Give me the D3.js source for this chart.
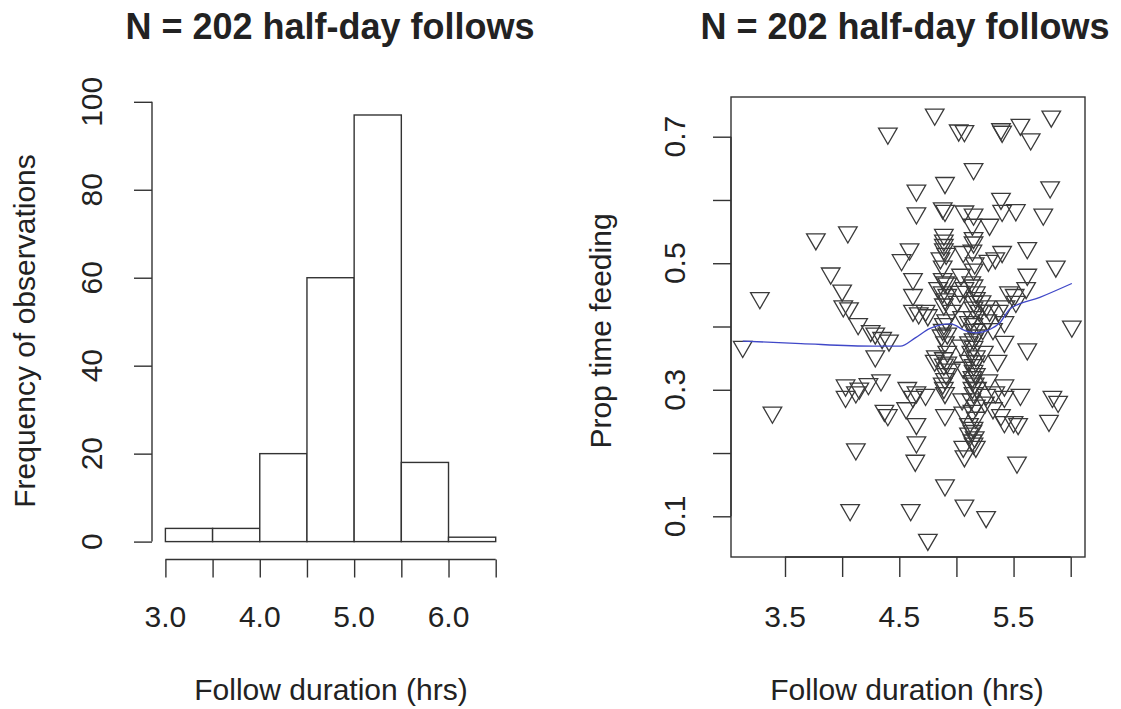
<!DOCTYPE html>
<html>
<head>
<meta charset="utf-8">
<script src="https://cdn.jsdelivr.net/npm/d3@7"></script>
<style>
  body { margin: 0; background: #fff; }
  text { font-family: "Liberation Sans", Arial, Helvetica, sans-serif; fill: #222; }
</style>
</head>
<body>
<div id="chart"></div>
<script>
// histogram: follow duration bins (hrs) and counts
const histBreaks = [3.0, 3.5, 4.0, 4.5, 5.0, 5.5, 6.0, 6.5];
const histCounts = [3, 3, 20, 60, 97, 18, 1];
const histXTicks = [3.0, 3.5, 4.0, 4.5, 5.0, 5.5, 6.0, 6.5];
const histXLabels = [3.0, 4.0, 5.0, 6.0];
const histYTicks = [0, 20, 40, 60, 80, 100];

// scatter: follow duration vs proportion of time feeding
const followDur = [
  4.81, 5.83, 5.02, 5.07, 5.39, 5.40, 5.56, 5.65, 4.40, 5.15,
  4.65, 4.90, 5.82, 4.65, 4.88, 4.90, 5.07, 5.15, 5.39, 5.40,
  5.52, 5.76, 5.29, 5.14, 3.77, 4.05, 5.62, 4.59, 4.89, 4.89,
  4.89, 5.15, 5.15, 5.28, 5.34, 5.40, 4.52, 4.86, 5.06, 5.87,
  3.90, 5.62, 5.61, 4.62, 4.88, 4.92, 4.84, 4.88, 5.04, 5.07,
  5.15, 5.17, 5.46, 5.51, 3.28, 4.00, 4.62, 4.01, 4.06, 4.62,
  4.67, 4.73, 4.75, 4.90, 4.96, 5.01, 5.15, 5.20, 5.26, 5.29,
  5.37, 5.43, 5.52, 4.14, 4.25, 4.29, 4.35, 4.41, 4.89, 4.92,
  4.87, 5.11, 5.15, 5.17, 5.23, 5.32, 5.42, 6.01, 3.13, 4.29,
  5.11, 5.15, 5.17, 5.42, 5.62, 4.82, 4.89, 4.92, 4.95, 5.11,
  5.15, 5.17, 5.14, 5.36, 4.81, 4.03, 4.15, 4.12, 4.23, 4.34,
  4.57, 4.65, 4.73, 4.90, 4.89, 5.14, 5.18, 5.26, 5.34, 5.42,
  5.42, 5.56, 4.03, 4.56, 4.62, 5.84, 5.89, 3.39, 4.37, 4.40,
  4.90, 5.06, 5.14, 5.17, 5.11, 5.32, 5.39, 5.42, 5.50, 5.54,
  4.65, 5.81, 5.11, 5.14, 5.06, 4.12, 4.65, 4.64, 5.07, 5.17,
  5.53, 4.90, 4.07, 4.60, 5.07, 5.26, 4.75,
  5.14, 5.16, 5.15, 5.13, 5.17, 5.15, 5.14, 5.16, 5.15, 5.13,
  5.17, 5.15, 5.14, 5.16, 5.15, 5.13, 5.17, 5.15, 5.14, 5.16, 5.15,
  4.89, 4.91, 4.88, 4.90, 4.92, 4.89, 4.91, 4.88, 4.90, 4.92,
  4.89, 4.91, 4.88, 4.90,
  5.03, 5.05, 5.04, 5.06, 5.05,
  5.22, 5.27, 5.24, 5.28, 5.25
];
const propFeeding = [
  0.735, 0.732, 0.710, 0.709, 0.712, 0.708, 0.719, 0.696, 0.705, 0.649,
  0.615, 0.627, 0.620, 0.579, 0.587, 0.583, 0.582, 0.577, 0.602, 0.583,
  0.584, 0.577, 0.561, 0.561, 0.538, 0.549, 0.524, 0.522, 0.536, 0.529,
  0.522, 0.540, 0.533, 0.504, 0.508, 0.518, 0.505, 0.508, 0.518, 0.495,
  0.484, 0.482, 0.461, 0.475, 0.475, 0.468, 0.461, 0.454, 0.482, 0.461,
  0.465, 0.454, 0.454, 0.450, 0.445, 0.457, 0.450, 0.432, 0.429, 0.425,
  0.421, 0.425, 0.418, 0.443, 0.425, 0.439, 0.439, 0.425, 0.432, 0.425,
  0.425, 0.432, 0.439, 0.404, 0.393, 0.389, 0.382, 0.378, 0.404, 0.389,
  0.386, 0.407, 0.404, 0.386, 0.396, 0.396, 0.407, 0.400, 0.368, 0.353,
  0.375, 0.368, 0.353, 0.376, 0.364, 0.353, 0.350, 0.343, 0.332, 0.346,
  0.339, 0.325, 0.314, 0.346, 0.346, 0.307, 0.302, 0.296, 0.309, 0.315,
  0.303, 0.296, 0.292, 0.317, 0.303, 0.303, 0.303, 0.292, 0.296, 0.307,
  0.289, 0.292, 0.289, 0.271, 0.289, 0.289, 0.281, 0.264, 0.267, 0.260,
  0.260, 0.264, 0.267, 0.256, 0.246, 0.271, 0.260, 0.249, 0.249, 0.246,
  0.246, 0.251, 0.231, 0.220, 0.210, 0.206, 0.217, 0.188, 0.195, 0.210,
  0.185, 0.149, 0.110, 0.110, 0.117, 0.099, 0.063,
  0.520, 0.500, 0.490, 0.470, 0.445, 0.430, 0.415, 0.395, 0.380, 0.360,
  0.345, 0.330, 0.320, 0.310, 0.295, 0.285, 0.275, 0.240, 0.235, 0.225, 0.215,
  0.545, 0.515, 0.495, 0.470, 0.450, 0.435, 0.410, 0.395, 0.375, 0.360,
  0.340, 0.325, 0.310, 0.295,
  0.455, 0.415, 0.370, 0.335, 0.285,
  0.440, 0.410, 0.360, 0.315, 0.280
];

// smoother line (blue)
const smoothX = [3.13, 3.64, 4.27, 4.51, 4.64, 4.77, 4.95, 5.08, 5.17, 5.30, 5.38, 5.47, 5.73, 6.01];
const smoothY = [0.377, 0.373, 0.369, 0.369, 0.382, 0.397, 0.404, 0.393, 0.390, 0.396, 0.406, 0.428, 0.446, 0.468];

const scatXTicks = [3.5, 4.0, 4.5, 5.0, 5.5, 6.0];
const scatXLabels = [3.5, 4.5, 5.5];
const scatYTicks = [0.1, 0.2, 0.3, 0.4, 0.5, 0.6, 0.7];
const scatYLabels = [0.1, 0.3, 0.5, 0.7];

const width = 1121, height = 709;
const ink = "#333";
const fmt1 = d3.format(".1f");

const svg = d3.select("#chart").append("svg")
  .attr("width", width)
  .attr("height", height)
  .style("background", "#fff");

// ---------- left panel: histogram ----------
const hx = d3.scaleLinear().domain([3.0, 6.5]).range([165.4, 495.7]);
const hy = d3.scaleLinear().domain([0, 100]).range([541.6, 101.8]);

const left = svg.append("g");

left.selectAll("rect.bar")
  .data(histCounts)
  .enter()
  .append("rect")
  .attr("class", "bar")
  .attr("x", (d, i) => hx(histBreaks[i]))
  .attr("y", d => hy(d))
  .attr("width", (d, i) => hx(histBreaks[i + 1]) - hx(histBreaks[i]))
  .attr("height", d => hy(0) - hy(d))
  .attr("fill", "#fff")
  .attr("stroke", ink)
  .attr("stroke-width", 1.4);

// x axis
const hxAxisY = 559.5;
const hxAxis = d3.axisBottom(hx).tickValues(histXTicks).tickSize(18).tickFormat("");
left.append("g")
  .attr("transform", `translate(0,${hxAxisY})`)
  .call(hxAxis)
  .call(g => g.select(".domain").attr("stroke", ink).attr("stroke-width", 1.4)
    .attr("d", `M${hx(3.0)},0H${hx(6.5)}`))
  .call(g => g.selectAll(".tick line").attr("stroke", ink).attr("stroke-width", 1.4));

left.selectAll("text.hxlab")
  .data(histXLabels)
  .enter()
  .append("text")
  .attr("class", "hxlab")
  .attr("x", d => hx(d))
  .attr("y", 627)
  .attr("text-anchor", "middle")
  .style("font-size", "30px")
  .text(d => fmt1(d));

// y axis
const hyAxis = d3.axisLeft(hy).tickValues(histYTicks).tickSize(18).tickFormat("");
left.append("g")
  .attr("transform", "translate(152,0)")
  .call(hyAxis)
  .call(g => g.select(".domain").attr("stroke", ink).attr("stroke-width", 1.4)
    .attr("d", `M0,${hy(0)}V${hy(100)}`))
  .call(g => g.selectAll(".tick line").attr("stroke", ink).attr("stroke-width", 1.4));

left.selectAll("text.hylab")
  .data(histYTicks)
  .enter()
  .append("text")
  .attr("class", "hylab")
  .attr("transform", d => `translate(102,${hy(d)}) rotate(-90)`)
  .attr("text-anchor", "middle")
  .style("font-size", "30px")
  .text(d => d);

left.append("text")
  .attr("transform", "translate(35,331) rotate(-90)")
  .attr("text-anchor", "middle")
  .style("font-size", "30px")
  .text("Frequency of observations");

left.append("text")
  .attr("x", 331)
  .attr("y", 700)
  .attr("text-anchor", "middle")
  .style("font-size", "30px")
  .text("Follow duration (hrs)");

left.append("text")
  .attr("x", 330)
  .attr("y", 38.5)
  .attr("text-anchor", "middle")
  .style("font-size", "36px")
  .style("font-weight", "bold")
  .text("N = 202 half-day follows");

// ---------- right panel: scatter ----------
const box = { x0: 731, x1: 1085, y0: 97, y1: 557 };
const sx = d3.scaleLinear().domain([3.5, 6.0]).range([785, 1070.7]);
const sy = d3.scaleLinear().domain([0.1, 0.7]).range([516.3, 136.7]);

const right = svg.append("g");

// points: downward open triangles
const half = 9.3;              // half of the base width
const rad = half / 0.866;      // circumradius
const tri = `M${-half},${-rad / 2}L${half},${-rad / 2}L0,${rad}Z`;

right.selectAll("path.pt")
  .data(followDur.map((d, i) => [d, propFeeding[i]]))
  .enter()
  .append("path")
  .attr("class", "pt")
  .attr("d", tri)
  .attr("transform", d => `translate(${sx(d[0])},${sy(d[1])})`)
  .attr("fill", "none")
  .attr("stroke", "#3a3a3a")
  .attr("stroke-width", 1.3);

// smoother
const line = d3.line()
  .x(d => sx(d[0]))
  .y(d => sy(d[1]))
  .curve(d3.curveMonotoneX);

right.append("path")
  .datum(smoothX.map((d, i) => [d, smoothY[i]]))
  .attr("d", line)
  .attr("fill", "none")
  .attr("stroke", "#4048c8")
  .attr("stroke-width", 1.3);

// frame
right.append("rect")
  .attr("x", box.x0)
  .attr("y", box.y0)
  .attr("width", box.x1 - box.x0)
  .attr("height", box.y1 - box.y0)
  .attr("fill", "none")
  .attr("stroke", ink)
  .attr("stroke-width", 1.4);

// x axis
const sxAxis = d3.axisBottom(sx).tickValues(scatXTicks).tickSize(20).tickFormat("");
right.append("g")
  .attr("transform", `translate(0,${box.y1})`)
  .call(sxAxis)
  .call(g => g.select(".domain").attr("stroke", ink).attr("stroke-width", 1.4)
    .attr("d", `M${sx(3.5)},0H${sx(6.0)}`))
  .call(g => g.selectAll(".tick line").attr("stroke", ink).attr("stroke-width", 1.4));

right.selectAll("text.sxlab")
  .data(scatXLabels)
  .enter()
  .append("text")
  .attr("class", "sxlab")
  .attr("x", d => sx(d))
  .attr("y", 627)
  .attr("text-anchor", "middle")
  .style("font-size", "30px")
  .text(d => fmt1(d));

// y axis
const syAxis = d3.axisLeft(sy).tickValues(scatYTicks).tickSize(18).tickFormat("");
right.append("g")
  .attr("transform", `translate(${box.x0},0)`)
  .call(syAxis)
  .call(g => g.select(".domain").attr("stroke", ink).attr("stroke-width", 1.4)
    .attr("d", `M0,${sy(0.1)}V${sy(0.7)}`))
  .call(g => g.selectAll(".tick line").attr("stroke", ink).attr("stroke-width", 1.4));

right.selectAll("text.sylab")
  .data(scatYLabels)
  .enter()
  .append("text")
  .attr("class", "sylab")
  .attr("transform", d => `translate(685,${sy(d)}) rotate(-90)`)
  .attr("text-anchor", "middle")
  .style("font-size", "30px")
  .text(d => fmt1(d));

right.append("text")
  .attr("transform", "translate(611,331) rotate(-90)")
  .attr("text-anchor", "middle")
  .style("font-size", "30px")
  .text("Prop time feeding");

right.append("text")
  .attr("x", 907)
  .attr("y", 700)
  .attr("text-anchor", "middle")
  .style("font-size", "30px")
  .text("Follow duration (hrs)");

right.append("text")
  .attr("x", 905)
  .attr("y", 38.5)
  .attr("text-anchor", "middle")
  .style("font-size", "36px")
  .style("font-weight", "bold")
  .text("N = 202 half-day follows");
</script>
</body>
</html>
